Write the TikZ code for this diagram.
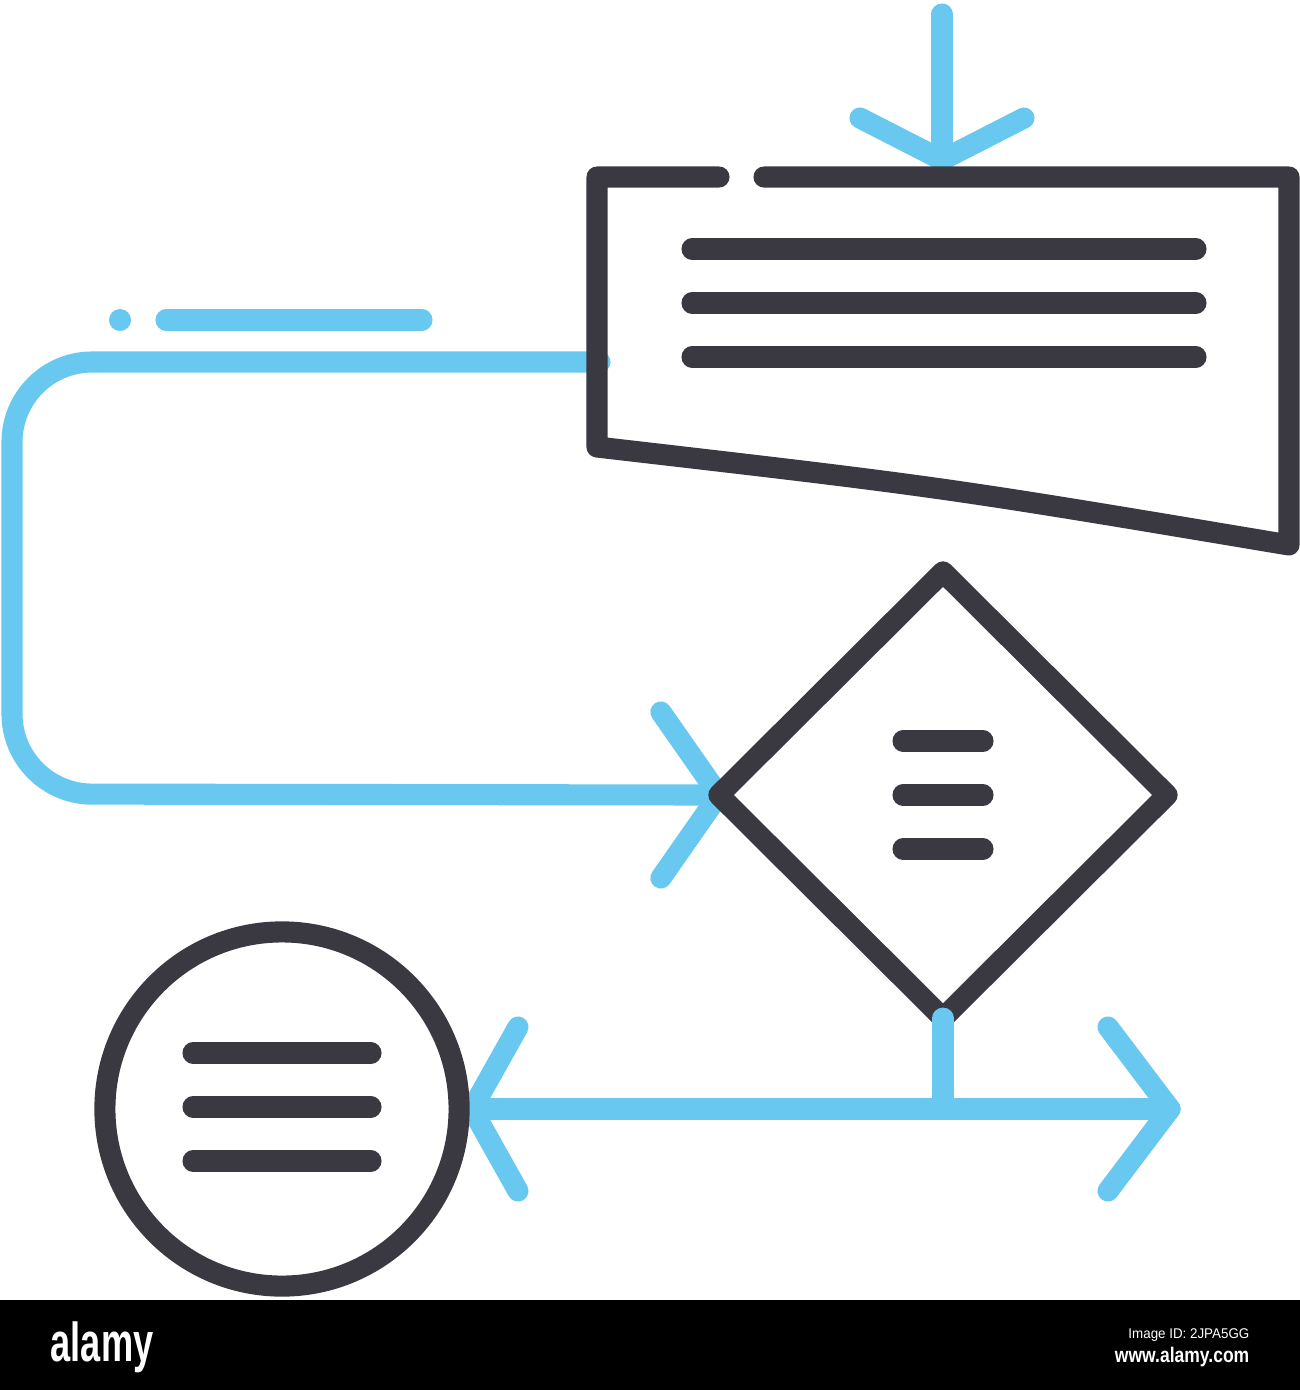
\documentclass[tikz,border=0pt]{standalone}
\usepackage{fontspec}
\setmainfont{Liberation Sans}
\usetikzlibrary{shapes.geometric,backgrounds}
\definecolor{dk}{HTML}{3A3942}
\definecolor{sky}{HTML}{68C8F0}
\begin{document}
\begin{tikzpicture}[x=0.01cm,y=-0.01cm,
  dkline/.style={draw=dk,line width=6pt,line cap=round,line join=round},
  skyline/.style={draw=sky,line width=6pt,line cap=round,line join=round}]
\useasboundingbox (0,0) rectangle (1300,1390);

\coordinate (in) at (942,14);
\coordinate (t) at (942,160);
\coordinate (bx) at (600,362);
\coordinate (l) at (472,1109);
\coordinate (r) at (1170,1109);
\node[diamond,dkline,minimum width=4.48cm,minimum height=4.46cm,inner sep=0,outer sep=0] (d) at (943,795) {};
\node[circle,dkline,minimum size=3.54cm,inner sep=0,outer sep=0] (c) at (282,1109) {};

\draw[dkline] (719,177) -- (597,177) -- (597,447) .. controls (943,487) .. (1289,545) -- (1289,177) -- (764,177);
\draw[dkline] (692,249) -- (1196,249) (692,303) -- (1196,303) (692,357) -- (1196,357);
\draw[dkline] (903,741) -- (983,741) (903,795) -- (983,795) (903,849) -- (983,849);
\draw[dkline] (193,1053) -- (371,1053) (193,1107) -- (371,1107) (193,1161) -- (371,1161);

\begin{scope}[on background layer]
\draw[skyline] (in) -- (t);
\draw[skyline] (t) ++(-82,-42) -- (t) -- ++(82,-42);
\draw[skyline,rounded corners=0.8cm] (bx) -| (12,794) -- (d.west);
\draw[skyline] (d.west) ++(-58,-83) -- (d.west) -- ++(-58,83);
\draw[skyline] (c.east) -- (r);
\draw[skyline] (l) ++(46,-82) -- (l) -- ++(46,82);
\draw[skyline] (r) ++(-62,-82) -- (r) -- ++(-62,82);
\end{scope}
\draw[skyline] (d.south) -- (d.south |- r);
\fill[sky] (120,320) circle (11);
\draw[skyline] (166,320) -- (422,320);

\fill[black] (0,1300) rectangle (1300,1390);
\node[anchor=base west,inner sep=0,text=white,font=\fontsize{15.6}{18}\selectfont\bfseries] (logo) at (50,1361) {\scalebox{0.66}[1]{alamy}};
\node[anchor=base east,inner sep=0,text=white,font=\fontsize{4}{5}\selectfont] (id) at (1250,1338) {\scalebox{0.95}[1]{Image ID: 2JPA5GG}};
\node[anchor=base east,inner sep=0,text=white,font=\fontsize{6}{7}\selectfont\bfseries] (www) at (1250,1362) {\scalebox{0.83}[1]{www.alamy.com}};
\end{tikzpicture}
\end{document}
